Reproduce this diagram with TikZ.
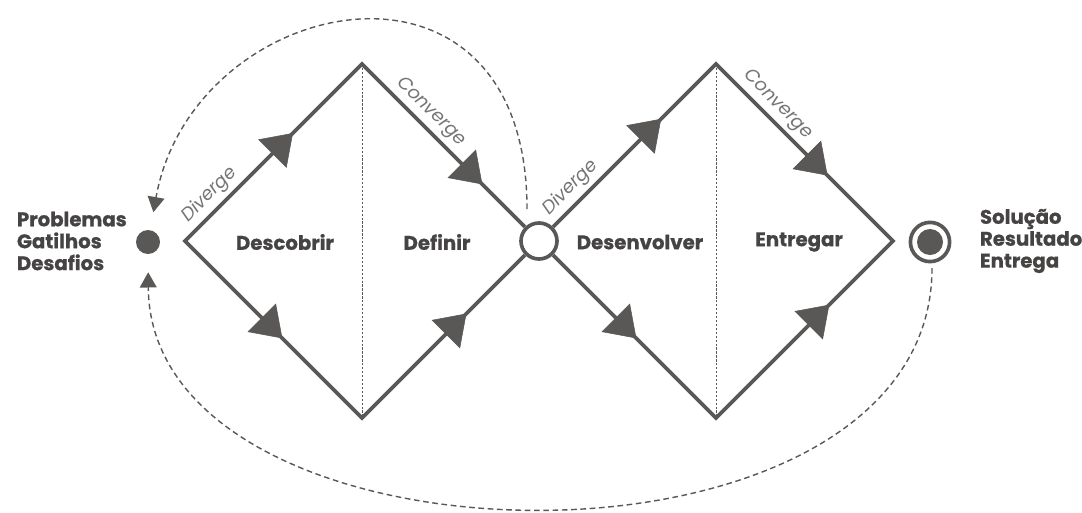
\documentclass[tikz,border=0pt]{standalone}
\usepackage{fontspec}
\setmainfont{Poppins}[BoldFeatures={FakeBold=0.8}]
\usetikzlibrary{arrows.meta,decorations.markings}
\definecolor{ddline}{RGB}{90,88,87}
\definecolor{ddtext}{RGB}{70,67,67}
\definecolor{ddsoft}{RGB}{118,116,116}

\begin{document}
\begin{tikzpicture}[x=0.025cm,y=-0.025cm,
  edge/.style={draw=ddline,line width=2.6pt,line join=miter},
  split/.style={draw=ddline,line width=0.6pt,dash pattern=on 1.6pt off 1.2pt},
  tri/.style={postaction={decorate},decoration={markings,mark=at position #1 with {\arrow{Triangle[length=7.3mm,width=10mm,color=ddline,fill=ddline]}}}},
  back/.style={draw=ddline,line width=1pt,dash pattern=on 4pt off 2.6pt,shorten >=4.5mm,-{Triangle[length=3.8mm,width=4.2mm,color=ddline,fill=ddline]}},
  dot/.style={circle,fill=ddline,inner sep=0pt,minimum size=6mm},
  hub/.style={circle,draw=ddline,line width=2.6pt,fill=white,inner sep=0pt,minimum size=9mm},
  ring/.style={circle,draw=ddline,line width=2.6pt,inner sep=0pt,minimum size=9.8mm},
  flow/.style={font=\itshape\fontsize{13}{15}\selectfont,text=ddsoft,sloped,above=2pt,inner sep=2pt},
  phase/.style={font=\bfseries\fontsize{14}{16}\selectfont,text=ddtext},
  ends/.style={font=\bfseries\fontsize{14}{15.6}\selectfont,text=ddtext,align=left,anchor=west}]

\useasboundingbox (0,0) rectangle (1082,512);

\coordinate (L) at (185,241);
\coordinate (T1) at (362,64);
\coordinate (B1) at (362,418);
\coordinate (H) at (539,241);
\coordinate (T2) at (716,64);
\coordinate (B2) at (716,418);
\coordinate (R) at (893,241);

\draw[split] (T1) -- (B1);
\draw[split] (T2) -- (B2);

\node[hub] (hub) at (H) {};
\node[dot] (src) at (148,242) {};
\node[ring] (goal) at (930,242) {};
\node[dot,minimum size=6.5mm] (goalin) at (goal) {};

\draw[edge] (hub) -- (T1) -- (L) -- (B1) -- (hub);
\draw[edge] (hub) -- (T2) -- (R) -- (B2) -- (hub);

% arrowheads on the diamonds
\path[tri=.61] (L) -- (T1);
\path[tri=.68] (T1) -- (H);
\path[tri=.55] (L) -- (B1);
\path[tri=.59] (B1) -- (H);
\path[tri=.69] (H) -- (T2);
\path[tri=.63] (T2) -- (R);
\path[tri=.55] (H) -- (B2);
\path[tri=.64] (B2) -- (R);

\path (L) -- (T1) node[flow,pos=.2] {Diverge};
\path (T1) -- (H) node[flow,pos=.33] {Converge};
\path (H) -- (T2) node[flow,pos=.24] {Diverge};
\path (T2) -- (R) node[flow,pos=.29] {Converge};

\node[phase] (discover) at (285,242) {Descobrir};
\node[phase] (define) at (437,242) {Definir};
\node[phase] (develop) at (640,242) {Desenvolver};
\node[phase] (deliver) at (799,242) {Entregar};

\node[ends] (problems) at (12,241) {Problemas\\Gatilhos\\Desafios};
\node[ends] (outcome) at (975,241) {Solução\\Resultado\\Entrega};

% feedback loops
\coordinate (loopA) at (527,209);
\coordinate (loopB) at (932,268);
\draw[back] (loopA) .. controls +(0,-285) and +(45,-250) .. (src);
\draw[back] (loopB) .. controls +(0,326) and +(2,340) .. (src);

\end{tikzpicture}
\end{document}
